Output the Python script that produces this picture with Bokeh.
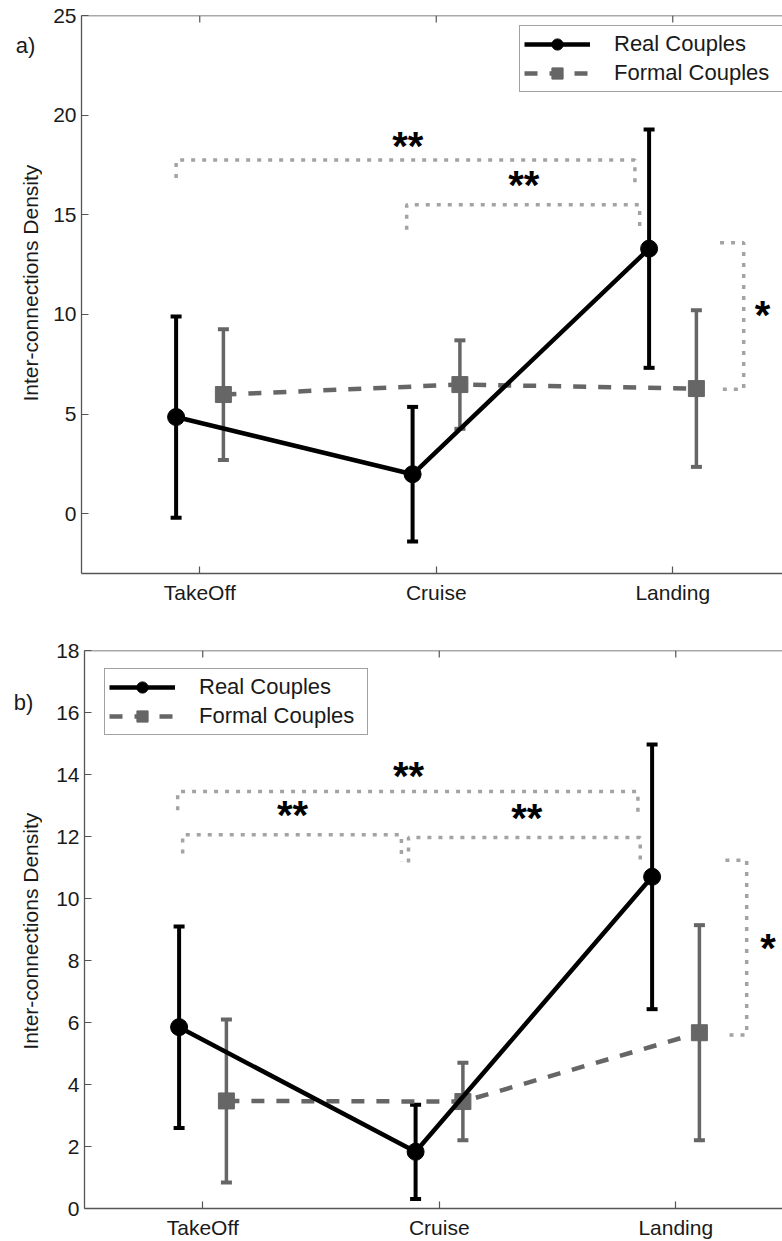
import math
from bokeh.plotting import figure
from bokeh.models import (FixedTicker, Range1d, Whisker, TeeHead, ColumnDataSource,
                          Legend, LegendItem, Span)
from bokeh.layouts import column, row
from bokeh.embed import file_html
from bokeh.resources import INLINE
from bokeh.core.properties import value

# ---------------- data ----------------
phases = ["TakeOff", "Cruise", "Landing"]
series_names = ["Real Couples", "Formal Couples"]
y_axis_title = "Inter-connections Density"

# panel a)
a_real_mean = [4.85, 1.98, 13.3]
a_real_sd = [5.05, 3.38, 5.98]
a_formal_mean = [5.98, 6.48, 6.28]
a_formal_sd = [3.28, 2.22, 3.93]
a_yticks = [0, 5, 10, 15, 20, 25]

# panel b)
b_real_mean = [5.85, 1.83, 10.7]
b_real_sd = [3.25, 1.52, 4.27]
b_formal_mean = [3.47, 3.45, 5.67]
b_formal_sd = [2.63, 1.25, 3.47]
b_yticks = [0, 2, 4, 6, 8, 10, 12, 14, 16, 18]

# significance brackets: (x_left, x_right, y_top, y_left_end, y_right_end, mark, mark_x, mark_y)
a_brackets = [
    (0.90, 2.84, 17.75, 16.85, 16.5, "**", 1.88, 18.45),
    (1.875, 2.86, 15.5, 14.25, 14.2, "**", 2.37, 16.5),
]
# side bracket: (x_vertical, x_stub_top, x_stub_bottom, y_top, y_bottom, mark, mark_x, mark_y)
a_side = (3.30, 3.20, 3.19, 13.6, 6.25, "*", 3.38, 9.95)

b_brackets = [
    (0.894, 2.84, 13.45, 12.85, 12.65, "**", 1.87, 13.94),
    (0.915, 1.84, 12.06, 11.45, 11.2, "**", 1.38, 12.68),
    (1.87, 2.85, 11.97, 11.16, 11.13, "**", 2.37, 12.6),
]
b_side = (3.30, 3.21, 3.20, 11.23, 5.6, "*", 3.39, 8.4)

# ---------------- styling ----------------
FONT = "Liberation Sans"
BLACK = "#000000"
GRAY = "#666666"
DOT = "#a3a3a3"
AXIS = "#555555"
TEXT = "#1a1a1a"
PX_PER_UNIT = 236.5
PAGE_W = 782
SIDE_W = 42
STAR_SIZE = "40px"


def make_side(tag, fig_h, frame_top, frame_h, tag_xy, title_x):
    """Narrow strip on the left holding the panel tag and the y-axis title."""
    s = figure(width=SIDE_W, height=fig_h, x_range=Range1d(0, SIDE_W),
               y_range=Range1d(0, fig_h), x_axis_type=None, y_axis_type=None,
               output_backend="svg", toolbar_location=None,
               min_border_left=0, min_border_right=0, min_border_top=0, min_border_bottom=0)
    s.outline_line_color = None
    s.grid.visible = False
    s.text(x=[tag_xy[0]], y=[fig_h - tag_xy[1]], text=[tag], text_font=value(FONT),
           text_font_size="22px", text_color=TEXT, text_align="center",
           text_baseline="middle")
    s.text(x=[title_x], y=[fig_h - frame_top - frame_h / 2], text=[y_axis_title],
           angle=math.pi / 2, text_font=value(FONT), text_font_size="21px",
           text_color=TEXT, text_align="center", text_baseline="middle")
    return s


def make_panel(tag, real_mean, real_sd, formal_mean, formal_sd, y_lo, y_hi, yticks,
               brackets, side, legend_xy, frame_left, frame_top, frame_h,
               border_bottom, tag_xy):
    frame_w = PAGE_W - frame_left
    x_end = 0.5 + frame_w / PX_PER_UNIT
    fig_h = frame_top + frame_h + border_bottom
    p = figure(frame_width=frame_w, frame_height=frame_h,
               x_range=Range1d(0.5, x_end), y_range=Range1d(y_lo, y_hi),
               output_backend="svg", toolbar_location=None,
               min_border_left=frame_left - SIDE_W, min_border_right=0,
               min_border_top=frame_top, min_border_bottom=border_bottom)
    p.outline_line_color = None
    p.grid.visible = False
    p.background_fill_color = "white"
    p.border_fill_color = "white"

    p.xaxis.ticker = FixedTicker(ticks=[i + 1 for i in range(len(phases))])
    p.xaxis.major_label_overrides = {i + 1: name for i, name in enumerate(phases)}
    p.yaxis.ticker = FixedTicker(ticks=yticks)
    for ax in (p.xaxis[0], p.yaxis[0]):
        ax.axis_line_color = AXIS
        ax.axis_line_width = 1.3
        ax.major_tick_line_color = AXIS
        ax.major_tick_line_width = 1.2
        ax.major_tick_in = 7
        ax.major_tick_out = 0
        ax.minor_tick_line_color = None
        ax.major_label_text_font = FONT
        ax.major_label_text_font_size = "21px"
        ax.major_label_text_color = TEXT
    p.xaxis.major_label_standoff = 7
    p.yaxis.major_label_standoff = 5

    # top frame line with inward ticks
    p.add_layout(Span(location=y_hi, dimension="width", line_color=AXIS, line_width=1.3))
    tick_len = 7 * (y_hi - y_lo) / frame_h
    xt = [i + 1 for i in range(len(phases))]
    p.segment(x0=xt, y0=[y_hi] * len(xt), x1=xt, y1=[y_hi - tick_len] * len(xt),
              line_color=AXIS, line_width=1.2)

    n = len(phases)
    x_real = [i + 1 - 0.1 for i in range(n)]
    x_formal = [i + 1 + 0.1 for i in range(n)]

    # error bars
    for xs, m, sd, col, w in ((x_formal, formal_mean, formal_sd, GRAY, 3.5),
                              (x_real, real_mean, real_sd, BLACK, 4)):
        src = ColumnDataSource(dict(x=xs, upper=[a + b for a, b in zip(m, sd)],
                                    lower=[a - b for a, b in zip(m, sd)]))
        p.add_layout(Whisker(source=src, base="x", upper="upper", lower="lower",
                             dimension="height", line_color=col, line_width=w,
                             upper_head=TeeHead(size=11, line_color=col, line_width=4),
                             lower_head=TeeHead(size=11, line_color=col, line_width=4)))

    fl = p.line(x_formal, formal_mean, line_color=GRAY, line_width=4.5, line_dash="13 12")
    fs = p.scatter(x_formal, formal_mean, marker="square", size=16,
                   fill_color=GRAY, line_color=GRAY)
    rl = p.line(x_real, real_mean, line_color=BLACK, line_width=4.5)
    rs = p.scatter(x_real, real_mean, marker="circle", size=17,
                   fill_color=BLACK, line_color=BLACK)

    # significance brackets
    for (x0, x1, yt, y0, y1, mk, mx, my) in brackets:
        p.line([x0, x0, x1, x1], [y0, yt, yt, y1], line_color=DOT, line_width=3.5,
               line_dash="4 7")
        p.text(x=[mx], y=[my], text=[mk], text_font=value(FONT), text_font_style="bold",
               text_font_size=STAR_SIZE, text_align="center", text_baseline="middle",
               text_color=BLACK)
    xv, xst, xsb, yt, yb, mk, mx, my = side
    p.line([xst, xv, xv, xsb], [yt, yt, yb, yb], line_color=DOT, line_width=3.5,
           line_dash="4 7")
    p.text(x=[mx], y=[my], text=[mk], text_font=value(FONT), text_font_style="bold",
           text_font_size=STAR_SIZE, text_align="center", text_baseline="middle",
           text_color=BLACK)

    legend = Legend(items=[LegendItem(label=series_names[0], renderers=[rl, rs]),
                           LegendItem(label=series_names[1], renderers=[fl, fs])],
                    location=legend_xy)
    legend.label_text_font = FONT
    legend.label_text_font_size = "22px"
    legend.label_text_color = TEXT
    legend.glyph_width = 66
    legend.glyph_height = 28
    legend.label_height = 28
    legend.label_width = 164
    legend.spacing = 1
    legend.padding = 4
    legend.margin = 0
    legend.label_standoff = 24
    legend.border_line_color = "#444444"
    legend.border_line_width = 1.3
    legend.background_fill_color = "white"
    legend.background_fill_alpha = 1.0
    p.add_layout(legend)

    s = make_side(tag, fig_h, frame_top, frame_h, tag_xy, 30)
    return row(s, p)


pa = make_panel("a)", a_real_mean, a_real_sd, a_formal_mean, a_formal_sd, -3, 25, a_yticks,
                a_brackets, a_side, (438, 481), 81, 15, 558, 40, (25, 33))
pb = make_panel("b)", b_real_mean, b_real_sd, b_formal_mean, b_formal_sd, 0, 18, b_yticks,
                b_brackets, b_side, (20, 473), 84, 37, 558, 32, (23, 672 - 613))

layout = column(pa, pb)
open("out.html", "w").write(file_html(layout, INLINE, title="Inter-connections Density"))
